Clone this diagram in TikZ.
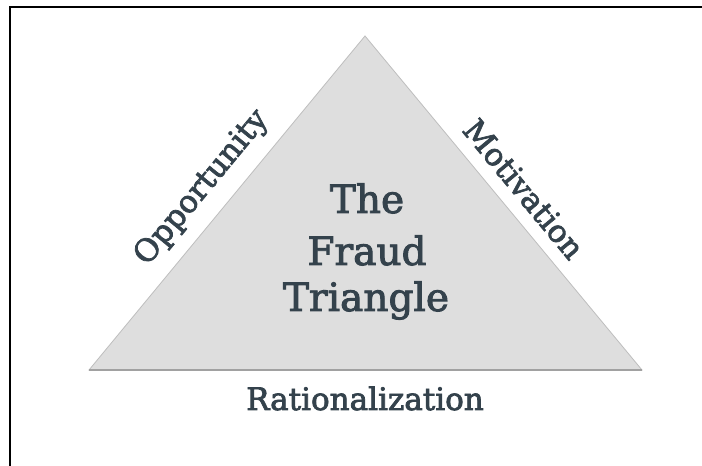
\documentclass[tikz,border=0pt]{standalone}
\usepackage{fontspec}
\setmainfont{DejaVu Serif}
% slightly heavier serif for all labels
\newfontfamily\labelfont{DejaVu Serif}[FakeBold=2.4]
\definecolor{slate}{RGB}{52,66,76}
\definecolor{trifill}{RGB}{222,222,222}
\definecolor{triedge}{RGB}{190,190,190}
\begin{document}
\begin{tikzpicture}[x=1pt,y=1pt,
  sidelabel/.style={text=slate,font=\labelfont\fontsize{31}{36}\selectfont,inner sep=0pt},
  titleline/.style={text=slate,font=\labelfont\fontsize{39}{46}\selectfont,inner sep=0pt,anchor=base}]
\useasboundingbox (0,0) rectangle (702,466);
\fill[white] (0,0) rectangle (702,466);
% frame along the top and left
\draw[line width=2.2pt,black] (10,0) -- (10,459) -- (702,459);
% the triangle
\coordinate (apex) at (365,430);
\coordinate (bl) at (89,96);
\coordinate (br) at (642,96);
\filldraw[fill=trifill,draw=triedge,line width=0.8pt,line join=miter] (bl) -- (apex) -- (br) -- cycle;
\draw[triedge!85!black,line width=1.2pt] (bl) -- (br);
% title inside
\node[titleline] (t1) at (367,253) {The};
\node[titleline] (t2) at (367,201) {Fraud};
\node[titleline] (t3) at (366,155) {Triangle};
% side labels
\node[sidelabel,rotate=50.4] (opp) at (202,278) {Opportunity};
\node[sidelabel,rotate=-50.4] (mot) at (524,277) {Motivation};
\node[sidelabel,anchor=base] (rat) at (365,56) {Rationalization};
\end{tikzpicture}
\end{document}
